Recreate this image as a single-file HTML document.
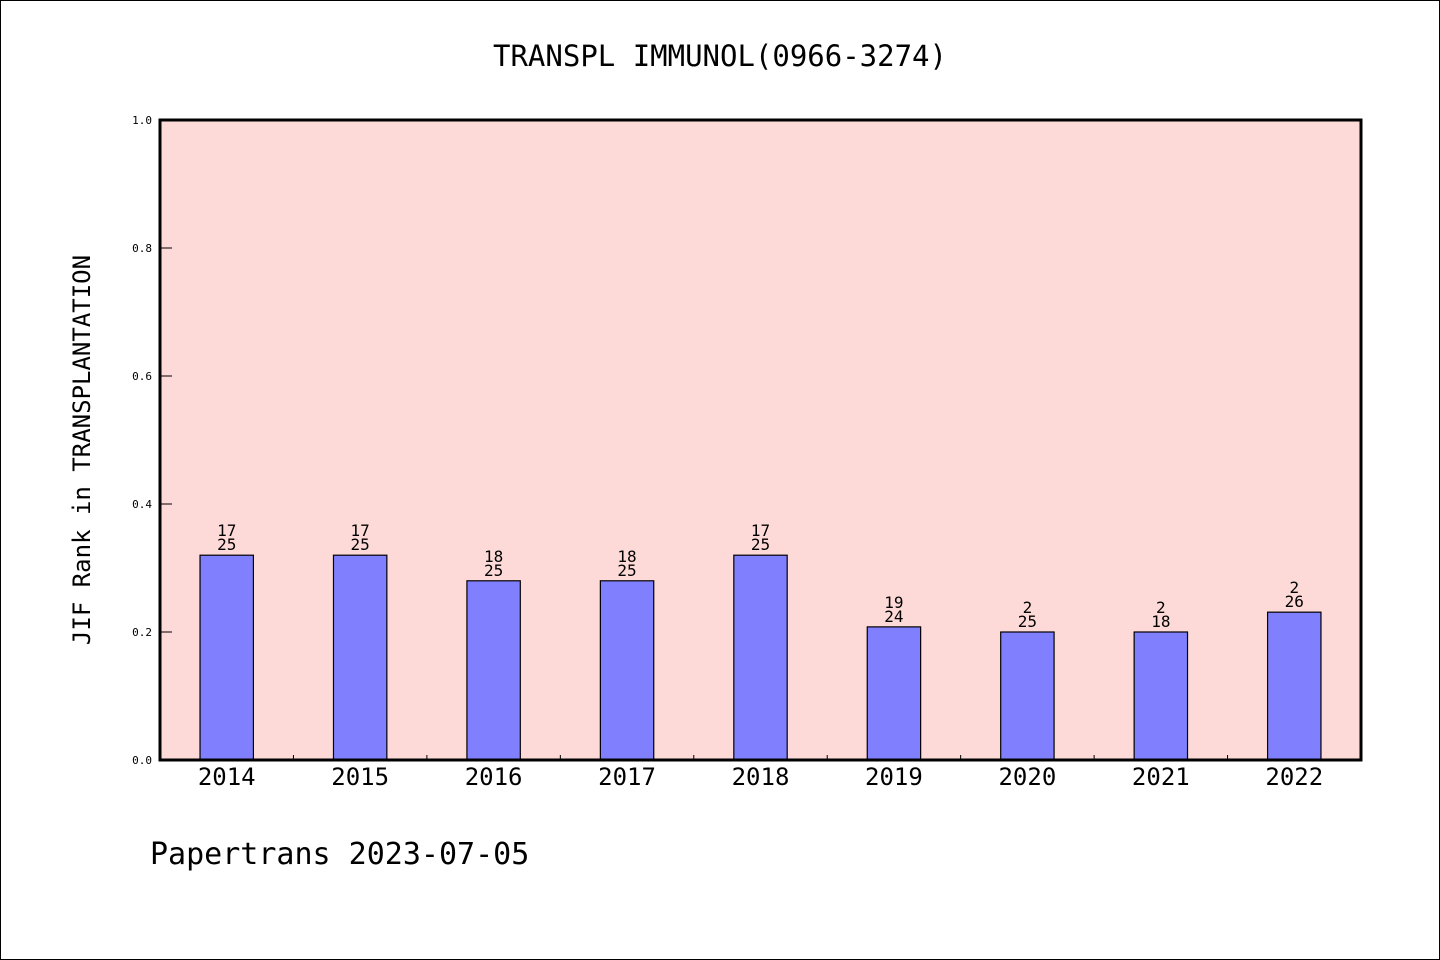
<!DOCTYPE html>
<html><head><meta charset="utf-8"><style>
body{margin:0;background:#fff}
svg{display:block}
text{font-family:"DejaVu Sans Mono","Liberation Mono","WenQuanYi Zen Hei",monospace;fill:#000}
</style></head><body>
<svg id="chart" width="1440" height="960" viewBox="0 0 1440 960">
<rect x="0.5" y="0.5" width="1439" height="959" fill="#fff" stroke="#000"/>
<text x="720" y="66" text-anchor="middle" font-size="29">TRANSPL IMMUNOL(0966-3274)</text>
<rect x="160" y="120" width="1201" height="640" fill="#fddad7"/>
<g id="bars"></g>
<g id="yaxis"></g>
<g id="xaxis"></g>
<rect x="160" y="120" width="1201" height="640" fill="none" stroke="#000" stroke-width="3"/>
<text transform="translate(90,450) rotate(-90)" text-anchor="middle" font-size="24">JIF Rank in TRANSPLANTATION</text>
<text x="150" y="864" font-size="30">Papertrans 2023-07-05</text>
</svg>
<script>
const categories=["2014","2015","2016","2017","2018","2019","2020","2021","2022"];
const values=[0.32,0.32,0.28,0.28,0.32,0.208,0.2,0.2,0.231];
const ranks=["17","17","18","18","17","19","2","2","2"];
const totals=["25","25","25","25","25","24","25","18","26"];
const yTicks=[0,0.2,0.4,0.6,0.8,1.0];
const ns="http://www.w3.org/2000/svg";
const L=160,R=1361,T=120,B=760;
const bw=(R-L)/categories.length;
const ys=v=>B-(B-T)*v;
const xs=i=>L+bw*(i+0.5);
function mk(tag,attrs,parent){const e=document.createElementNS(ns,tag);for(const k in attrs)e.setAttribute(k,attrs[k]);parent.appendChild(e);return e;}
const gb=document.getElementById('bars'),gy=document.getElementById('yaxis'),gx=document.getElementById('xaxis');
categories.forEach((c,i)=>{
  const w=bw*0.4,y=ys(values[i]);
  const r=mk('rect',{x:xs(i)-w/2,y:y,width:w,height:B-y,fill:'#8080ff',stroke:'#000','stroke-width':1.2},gb);
  
  
  const t1=mk('text',{x:xs(i),y:y-19,'text-anchor':'middle','font-size':16},gb);t1.textContent=ranks[i];
  
  
  const t2=mk('text',{x:xs(i),y:y-5,'text-anchor':'middle','font-size':16},gb);t2.textContent=totals[i];
  
  
  const xl=mk('text',{x:xs(i),y:785,'text-anchor':'middle','font-size':24},gx);xl.textContent=c;
  
  
  if(i>0){const tk=mk('line',{x1:L+bw*i,x2:L+bw*i,y1:B,y2:B-5,stroke:'#000'},gx);
  
  }
});
yTicks.forEach(v=>{
  const tk=mk('line',{x1:L,x2:L+12,y1:ys(v),y2:ys(v),stroke:'#000'},gy);
  
  
  const tl=mk('text',{x:152,y:ys(v)+4,'text-anchor':'end','font-size':11},gy);tl.textContent=v.toFixed(1);
  
  
});
</script>
</body></html>
